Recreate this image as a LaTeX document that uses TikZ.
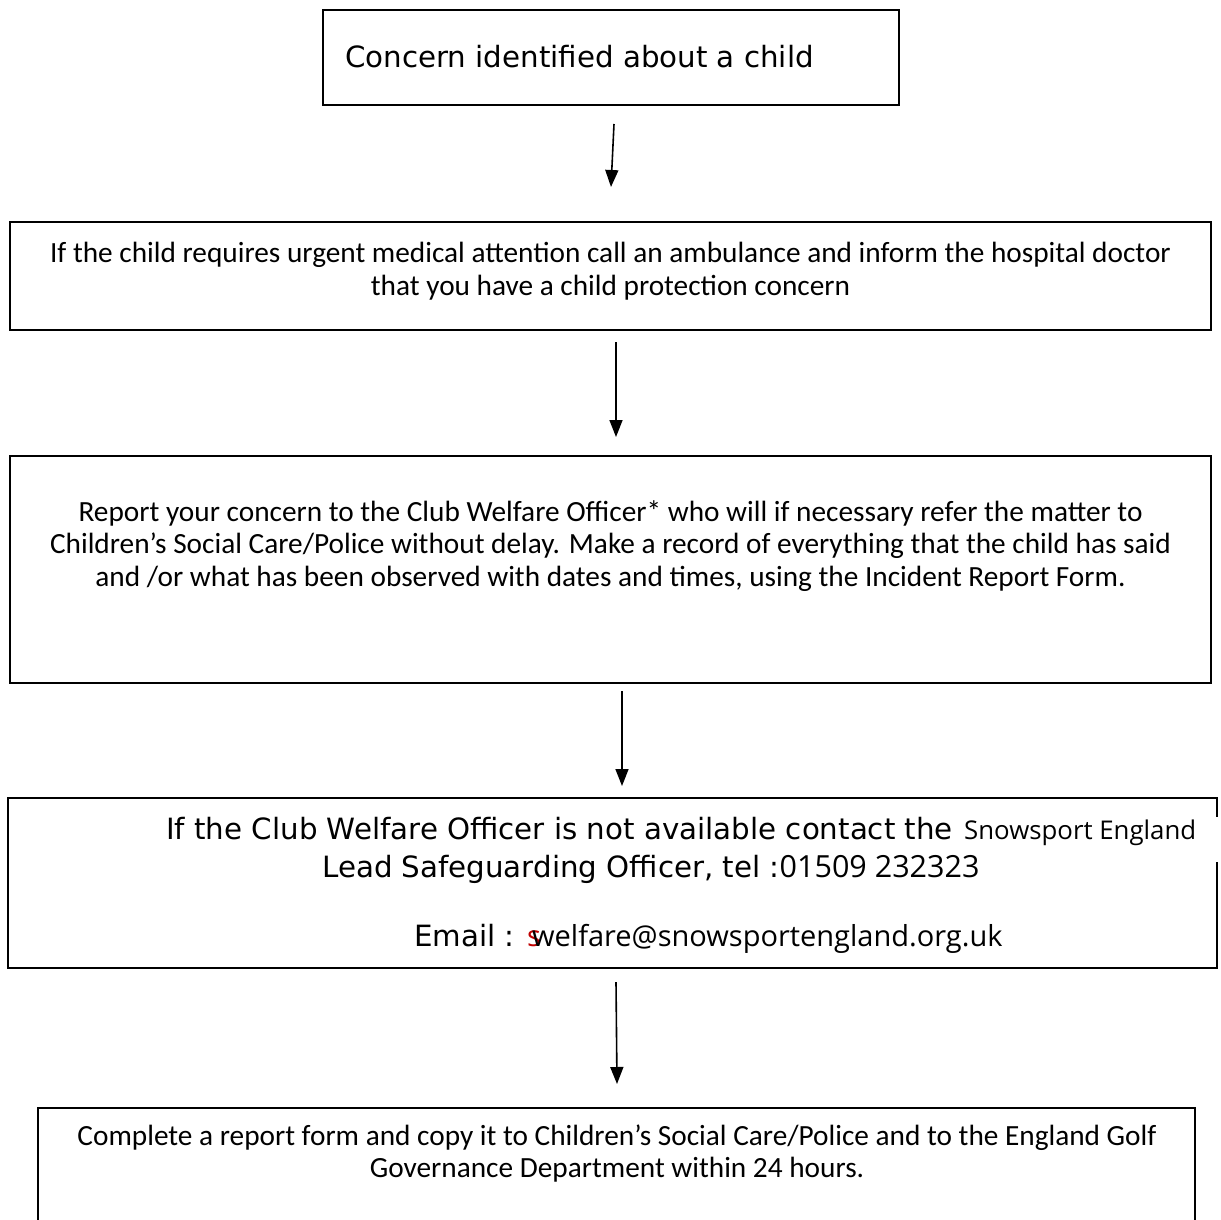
\documentclass[tikz,border=0pt]{standalone}
\usepackage{fontspec}
\usetikzlibrary{arrows.meta,calc}
\newfontfamily\verd{DejaVu Sans}
\newfontfamily\calib{Carlito}
\newfontfamily\segoe{Open Sans}
\tikzset{
  boxline/.style={draw=black, line width=2pt},
  box/.style={boxline, rectangle, inner sep=0pt},
  plainbox/.style={rectangle, inner sep=0pt},
  flow/.style={draw=black, line width=1.6pt, -{Triangle[length=17pt,width=13pt]}},
  cal/.style={inner sep=0pt, anchor=base, font=\calib\fontsize{29.3pt}{35pt}\selectfont},
  ver/.style={inner sep=0pt, anchor=base west, font=\verd\fontsize{29.3pt}{35pt}\selectfont},
}
\newcommand{\segA}{\segoe\fontsize{25.8pt}{30pt}\selectfont}
\newcommand{\segB}{\segoe\fontsize{29pt}{34pt}\selectfont}
\newcommand{\segC}{\segoe\fontsize{30.5pt}{34pt}\selectfont}
\begin{document}
\begin{tikzpicture}[x=1pt,y=-1pt]
\useasboundingbox (0,0) rectangle (1221,1220);
\fill[white] (0,0) rectangle (1221,1220);

% boxes
\node[box, minimum width=576pt, minimum height=95pt] (b1) at (611,57.5) {};
\node[box, minimum width=1201pt, minimum height=108pt] (b2) at (610.5,276) {};
\node[box, minimum width=1201pt, minimum height=227pt] (b3) at (610.5,569) {};
\node[plainbox, minimum width=1209pt, minimum height=170pt] (b4) at (612.5,883) {};
\draw[boxline] ($(b4.north east)+(0,19)$) -- (b4.north east) -- (b4.north west)
  -- (b4.south west) -- (b4.south east) -- ($(b4.south east)+(0,-106)$);
\node[box, minimum width=1157pt, minimum height=200pt] (b5) at (616.5,1208) {};

% texts
\node[ver] (t1) at (345,67.5) {Concern identified about a child};

\node[cal] (t2a) at (610.5,262) {If the child requires urgent medical attention call an ambulance and inform the hospital doctor};
\node[cal] (t2b) at (610.5,295) {that you have a child protection concern};

\node[cal] (t3a) at (610.5,521) {Report your concern to the Club Welfare Officer* who will if necessary refer the matter to};
\node[cal] (t3b) at (610.5,553) {Children’s Social Care/Police without delay. Make a record of everything that the child has said};
\node[cal] (t3c) at (610.5,586) {and /or what has been observed with dates and times, using the Incident Report Form.};

\node[ver] (t4a) at (166,839.5) {If the Club Welfare Officer is not available contact the\ \hspace{2pt}{\segA Snowsport England}};
\node[ver] (t4b) at (322,877.5) {Lead Safeguarding Officer, tel :{\segC 01509 232323}};
\node[ver] (t4c) at (414,946.5) {Email : \makebox[5pt][l]{\color{red!75!black}\segB s}{\segB welfare@snowsportengland.org.uk}};

\node[cal] (t5a) at (617,1145) {Complete a report form and copy it to Children’s Social Care/Police and to the England Golf};
\node[cal] (t5b) at (617,1177) {Governance Department within 24 hours.};

% connectors
\coordinate (a1s) at (614,124);
\coordinate (a1e) at (611,187);
\coordinate (a2s) at (616,342);
\coordinate (a2e) at (616,437);
\coordinate (a3s) at (622,691);
\coordinate (a3e) at (622,786);
\coordinate (a4s) at (616,982);
\coordinate (a4e) at (617,1084);
\draw[flow] (a1s) -- (a1e);
\draw[flow] (a2s) -- (a2e);
\draw[flow] (a3s) -- (a3e);
\draw[flow] (a4s) -- (a4e);
\end{tikzpicture}
\end{document}
